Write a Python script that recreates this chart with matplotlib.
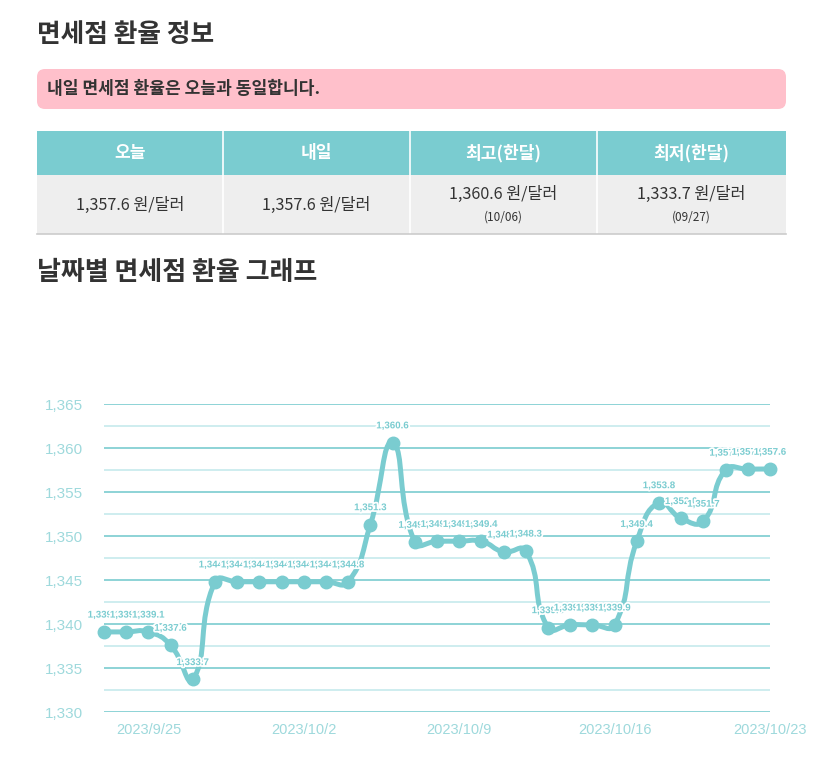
import numpy as np
import pandas as pd
import matplotlib
matplotlib.use("Agg")
import matplotlib.pyplot as plt
import matplotlib.patheffects as pe
from matplotlib.path import Path
from matplotlib.patches import PathPatch, FancyBboxPatch, Rectangle
from matplotlib.ticker import MultipleLocator, FuncFormatter

plt.rcParams['font.family'] = ['Noto Sans CJK KR', 'DejaVu Sans']

# 데이터
dates = pd.date_range("2023-09-23", "2023-10-23")
rates = [1339.1, 1339.1, 1339.1, 1337.6, 1333.7, 1344.8, 1344.8, 1344.8,
         1344.8, 1344.8, 1344.8, 1344.8, 1351.3, 1360.6, 1349.3, 1349.4,
         1349.4, 1349.4, 1348.2, 1348.3, 1339.6, 1339.9, 1339.9, 1339.9,
         1349.4, 1353.8, 1352.0, 1351.7, 1357.5, 1357.6, 1357.6]
tick_days = ["2023/9/25", "2023/10/2", "2023/10/9", "2023/10/16", "2023/10/23"]

table_headers = ["오늘", "내일", "최고(한달)", "최저(한달)"]
table_values = ["1,357.6 원/달러", "1,357.6 원/달러", "1,360.6 원/달러", "1,333.7 원/달러"]
table_dates = ["", "", "(10/06)", "(09/27)"]

TEAL = "#7accd0"
DARK = "#333333"


def smooth_path(xs, ys, sx, sy, k=0.5):
    # echarts 스타일의 부드러운 곡선 (픽셀 좌표 기준으로 제어점 계산)
    px = np.asarray(xs, float) * sx
    py = np.asarray(ys, float) * sy
    n = len(px)
    cin, cout = [], []
    for i in range(n):
        if i == 0 or i == n - 1:
            cin.append((px[i], py[i]))
            cout.append((px[i], py[i]))
            continue
        vx, vy = px[i + 1] - px[i - 1], py[i + 1] - py[i - 1]
        d0 = np.hypot(px[i] - px[i - 1], py[i] - py[i - 1])
        d1 = np.hypot(px[i + 1] - px[i], py[i + 1] - py[i])
        r = d1 / (d0 + d1) if d0 + d1 > 0 else 0.5
        cin.append((px[i] - vx * k * (1 - r), py[i] - vy * k * (1 - r)))
        cout.append((px[i] + vx * k * r, py[i] + vy * k * r))
    verts = [(px[0], py[0])]
    codes = [Path.MOVETO]
    for i in range(n - 1):
        verts += [cout[i], cin[i + 1], (px[i + 1], py[i + 1])]
        codes += [Path.CURVE4] * 3
    verts = [(a / sx, b / sy) for a, b in verts]
    return Path(verts, codes)


fig = plt.figure(figsize=(8.3, 7.58), dpi=100)

# 배경 (픽셀 좌표)
bg = fig.add_axes([0, 0, 1, 1])
bg.set_xlim(0, 830)
bg.set_ylim(758, 0)
bg.axis("off")

bg.text(37, 35, "면세점 환율 정보", fontsize=18.5, fontweight="bold",
        color=DARK, ha="left", va="center")
bg.add_patch(FancyBboxPatch((37, 69), 749, 40,
                            boxstyle="round,pad=0,rounding_size=8",
                            fc="#ffc0cb", ec="none"))
bg.text(47, 89, "내일 면세점 환율은 오늘과 동일합니다.", fontsize=12.3,
        color=DARK, ha="left", va="center", fontweight="bold")

edges = [37, 223, 410, 597, 786]
for i in range(4):
    x0, x1 = edges[i], edges[i + 1]
    bg.add_patch(Rectangle((x0, 131), x1 - x0, 44, fc=TEAL, ec="none"))
    bg.add_patch(Rectangle((x0, 175), x1 - x0, 59, fc="#eeeeee", ec="none"))
    cx = (x0 + x1) / 2
    bg.text(cx, 153, table_headers[i], fontsize=12.3, fontweight="bold",
            color="white", ha="center", va="center")
    if table_dates[i]:
        bg.text(cx, 194, table_values[i], fontsize=11.7, color=DARK,
                ha="center", va="center")
        bg.text(cx, 217, table_dates[i], fontsize=8.5, color=DARK,
                ha="center", va="center")
    else:
        bg.text(cx, 205, table_values[i], fontsize=11.7, color=DARK,
                ha="center", va="center")
for x in edges[1:-1]:
    bg.plot([x, x], [131, 234], color="white", lw=1.2)
bg.plot([37, 786], [234, 234], color="#cccccc", lw=1.2)

bg.text(37, 272, "날짜별 면세점 환율 그래프", fontsize=18.7, fontweight="bold",
        color=DARK, ha="left", va="center")

# 그래프
ax = fig.add_axes([104 / 830, 1 - 712 / 758, 666 / 830, 308 / 758])
x = np.arange(len(rates))
ax.set_xlim(0, len(rates) - 1)
ax.set_ylim(1330, 1365)
ax.yaxis.set_major_locator(MultipleLocator(5))
ax.yaxis.set_minor_locator(MultipleLocator(2.5))
ax.grid(axis="y", which="major", color=TEAL, lw=1.2)
ax.grid(axis="y", which="minor", color="#c6eaec", lw=1.2)
ax.set_axisbelow(True)
for s in ax.spines.values():
    s.set_visible(False)
ax.tick_params(which="both", length=0)
ax.tick_params(axis="y", pad=15, labelsize=11, labelcolor="#9ed9dc")
ax.tick_params(axis="x", pad=8, labelsize=10.5, labelcolor="#9ed9dc")
ax.yaxis.set_major_formatter(FuncFormatter(lambda v, p: f"{v:,.0f}"))
day_labels = [f"{d.year}/{d.month}/{d.day}" for d in dates]
tick_idx = [day_labels.index(t) for t in tick_days]
ax.set_xticks(tick_idx)
ax.set_xticklabels(tick_days, fontfamily="Liberation Sans")
for lab in ax.get_yticklabels():
    lab.set_fontfamily("Liberation Sans")

sx, sy = 666 / (len(rates) - 1), 308 / 35
ax.add_patch(PathPatch(smooth_path(x, rates, sx, sy), fc="none", ec=TEAL,
                       lw=3.6, capstyle="round", joinstyle="round",
                       zorder=3, clip_on=False))
ax.plot(x, rates, "o", color=TEAL, ms=9, zorder=4, clip_on=False)

for xi, v in zip(x, rates):
    ax.annotate(f"{v:,.1f}", (xi, v), xytext=(0, 12.5),
                textcoords="offset points", ha="center", va="center",
                fontsize=7, fontweight="bold", color=TEAL,
                fontfamily="Liberation Sans", zorder=5,
                path_effects=[pe.withStroke(linewidth=2.5, foreground="white")])

fig.savefig("out.png", dpi=100)
